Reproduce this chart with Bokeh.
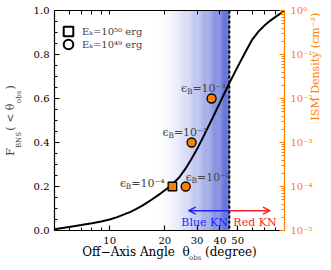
import math
import numpy as np
from bokeh.plotting import figure
from bokeh.models import (Range1d, LogScale, LogAxis, LinearAxis, FixedTicker, Span, Arrow,
                          OpenHead, Label, Legend, LegendItem)
from bokeh.embed import file_html
from bokeh.resources import INLINE

# ---------------- data ----------------
angle_deg = [5, 6, 7, 8, 9, 10, 11, 12, 13, 14, 15, 16, 17, 18, 19, 20, 21, 22, 24, 26, 28,
             30, 33, 36, 40, 45, 50, 55, 60, 65, 70, 75, 80, 85, 90]
f_bns = [0.006, 0.016, 0.025, 0.033, 0.041, 0.05, 0.061, 0.073, 0.085, 0.098, 0.112, 0.127,
         0.141, 0.155, 0.169, 0.183, 0.196, 0.21, 0.242, 0.282, 0.326, 0.37, 0.438, 0.502,
         0.582, 0.67, 0.745, 0.81, 0.868, 0.905, 0.932, 0.953, 0.970, 0.985, 1.0]

pt_angle = [22, 26, 28, 36]
pt_frac = [0.2, 0.2, 0.4, 0.6]
pt_marker = ["square", "circle", "circle", "circle"]
pt_eps_label = ["=10⁻⁴", "=10⁻²", "=10⁻³", "=10⁻³"]

x_ticks = [10, 20, 30, 40, 50]
x_tick_labels = ["10", "20", "30", "40", "50"]
x_minor = [6, 7, 8, 9, 60, 70, 80]
y_ticks = [0.0, 0.2, 0.4, 0.6, 0.8, 1.0]
y_tick_labels = ["0.0", "0.2", "0.4", "0.6", "0.8", "1.0"]
y_minor = [0.05, 0.1, 0.15, 0.25, 0.3, 0.35, 0.45, 0.5, 0.55, 0.65, 0.7, 0.75, 0.85, 0.9, 0.95]
dens_ticks = [1e-5, 1e-4, 1e-3, 1e-2, 1e-1, 1.0]
dens_labels = ["10⁻⁵", "10⁻⁴", "10⁻³", "10⁻²", "10⁻¹", "10⁰"]
dens_minor = [m * 10.0 ** e for e in range(-5, 0) for m in range(2, 10)]

kn_split = 45
gradient_start = 18
blue_arrow_end = 27
red_arrow_end = 75
arrow_level = 0.09
legend_labels = ["Eₖ=10⁵⁰ erg", "Eₖ=10⁴⁹ erg"]

NB = "\u00a0"
x_title_main = "Off−Axis Angle" + NB * 2 + "θ" + NB * 4 + "(degree)"
x_title_sub = NB * 23 + "obs"
y_title_main = "F" + NB * 5 + "(" + NB + "<" + NB + "θ" + NB * 4 + ")"
y_title_sub = NB + "BNS" + NB * 13 + "obs"
r_title = "ISM Density (cm⁻³)"

# ---------------- styles ----------------
SERIF = "DejaVu Serif"
ORANGE = "#ff8000"
BLUE = "#1f1fff"
RED = "#ff1f1f"

p = figure(width=331, height=270, x_axis_type="log", x_range=Range1d(5, 90),
           y_range=Range1d(0, 1), output_backend="svg", toolbar_location=None,
           min_border_left=44, min_border_right=45, min_border_top=10, min_border_bottom=40)
p.outline_line_color = None
p.grid.visible = False


def style_axis(ax, color="black"):
    ax.major_tick_in = 5
    ax.major_tick_out = 0
    ax.minor_tick_in = 3
    ax.minor_tick_out = 0
    ax.axis_line_color = color
    ax.major_tick_line_color = color
    ax.minor_tick_line_color = color
    ax.axis_line_width = 1.2
    ax.major_tick_line_width = 1.2
    ax.minor_tick_line_width = 1
    ax.major_label_text_font = SERIF
    ax.major_label_text_font_size = "10px"
    ax.major_label_text_color = color
    ax.axis_label_text_font = SERIF
    ax.axis_label_text_font_style = "normal"
    ax.axis_label_text_color = color


def title_axis(cls, label, size, standoff, **kw):
    ax = cls(ticker=FixedTicker(ticks=[]), axis_line_color=None, major_tick_line_color=None,
             minor_tick_line_color=None, major_label_standoff=0, major_tick_in=0,
             major_tick_out=0, minor_tick_in=0, minor_tick_out=0, axis_label=label,
             axis_label_standoff=standoff, axis_label_text_font=SERIF,
             axis_label_text_font_size=size, axis_label_text_font_style="normal", **kw)
    return ax


# bottom axis (+ main title)
xb = p.xaxis[0]
xb.ticker = FixedTicker(ticks=x_ticks, minor_ticks=x_minor)
xb.major_label_overrides = dict(zip(x_ticks, x_tick_labels))
style_axis(xb)
xb.major_label_standoff = 6
xb.axis_label = x_title_main
xb.axis_label_text_font_size = "12px"
xb.axis_label_standoff = -2
# subscript line of the x title
p.add_layout(title_axis(LogAxis, x_title_sub, "7px", -8), "below")

# top axis (ticks only)
xt = LogAxis(ticker=FixedTicker(ticks=[], minor_ticks=x_ticks + x_minor))
style_axis(xt)
xt.minor_tick_in = 4
xt.major_label_standoff = 0
p.add_layout(xt, "above")

# left axis
yl = p.yaxis[0]
yl.ticker = FixedTicker(ticks=y_ticks, minor_ticks=y_minor)
yl.major_label_overrides = dict(zip(y_ticks, y_tick_labels))
style_axis(yl)
yl.major_label_standoff = 5
# y title: subscripts (nearer the frame) then main line
p.add_layout(title_axis(LinearAxis, y_title_sub, "7px", 8), "left")
p.add_layout(title_axis(LinearAxis, y_title_main, "11px", -5), "left")

# right axis (ISM density)
p.extra_y_ranges = {"ism": Range1d(1e-5, 1.0)}
p.extra_y_scales = {"ism": LogScale()}
yr = LogAxis(y_range_name="ism", ticker=FixedTicker(ticks=dens_ticks, minor_ticks=dens_minor))
yr.major_label_overrides = dict(zip(dens_ticks, dens_labels))
style_axis(yr, ORANGE)
yr.major_label_standoff = 6
p.add_layout(yr, "right")

# right title on its own (bounded) axis so it starts low and reads upward
rt = title_axis(LinearAxis, r_title, "11px", 0, bounds=(0, 0.445))
rt.axis_label_text_color = ORANGE
rt.axis_label_orientation = math.pi / 2
p.add_layout(rt, "right")

# blue gradient band (white -> blue up to the KN split)
n_strip = 80
edges = np.geomspace(gradient_start, kn_split, n_strip + 1)
tt = (np.arange(n_strip) + 0.5) / n_strip
aa = 0.82 * tt ** 1.6
base = np.array([51, 71, 204])
cols = ["#%02x%02x%02x" % tuple(int(round(255 * (1 - a) + c * a)) for c in base) for a in aa]
p.quad(left=edges[:-1], right=edges[1:] * 1.004, bottom=0, top=1, fill_color=cols,
       line_color=None, level="underlay")

# dashed KN split line
p.add_layout(Span(location=kn_split, dimension="height", line_color="black",
                  line_width=2, line_dash="3 2"))

# curve
p.line(angle_deg, f_bns, line_color="black", line_width=2)

# points
p.scatter(pt_angle, pt_frac, marker=pt_marker, size=[8.5, 9, 9, 9], fill_color=ORANGE,
          line_color="black", line_width=1.3)

# epsilon_B labels (composed: eps, subscript B, =10^n)
lab_dx = [-52.5, 0, -29, -30.5]
lab_dy = [7, 13, 14, 14]
for xv, yv, txt, dx, dy in zip(pt_angle, pt_frac, pt_eps_label, lab_dx, lab_dy):
    base_y = dy - 4
    p.add_layout(Label(x=xv, y=yv, x_offset=dx, y_offset=base_y, text="ϵ",
                       text_font=SERIF, text_font_size="11px", text_baseline="alphabetic"))
    p.add_layout(Label(x=xv, y=yv, x_offset=dx + 5.8, y_offset=base_y - 2.5, text="B",
                       text_font=SERIF, text_font_size="7.5px", text_baseline="alphabetic"))
    p.add_layout(Label(x=xv, y=yv, x_offset=dx + 11.3, y_offset=base_y, text=txt,
                       text_font=SERIF, text_font_size="11px", text_baseline="alphabetic"))

# KN arrows and labels
p.add_layout(Arrow(x_start=kn_split, y_start=arrow_level, x_end=blue_arrow_end, y_end=arrow_level,
                   line_color=BLUE, line_width=1.5,
                   end=OpenHead(size=7, line_color=BLUE, line_width=1.5)))
p.add_layout(Arrow(x_start=kn_split, y_start=arrow_level, x_end=red_arrow_end, y_end=arrow_level,
                   line_color=RED, line_width=1.5,
                   end=OpenHead(size=7, line_color=RED, line_width=1.5)))
p.add_layout(Label(x=kn_split, y=arrow_level, x_offset=-1.5, y_offset=-12, text="Blue KN",
                   text_align="right", text_baseline="middle", text_color=BLUE,
                   text_font=SERIF, text_font_size="11px"))
p.add_layout(Label(x=kn_split, y=arrow_level, x_offset=4, y_offset=-12, text="Red KN",
                   text_align="left", text_baseline="middle", text_color=RED,
                   text_font=SERIF, text_font_size="11px"))

# legend (open markers)
nan = float("nan")
r_sq = p.scatter([nan], [nan], marker="square", size=9, fill_color="white",
                 line_color="black", line_width=2)
r_ci = p.scatter([nan], [nan], marker="circle", size=9, fill_color="white",
                 line_color="black", line_width=2)
for rend, lab, loc in [(r_sq, legend_labels[0], (2, 187)), (r_ci, legend_labels[1], (2, 174))]:
    lg = Legend(items=[LegendItem(label=lab, renderers=[rend])], location=loc,
                glyph_width=24, glyph_height=24, label_standoff=2, padding=0, margin=0,
                border_line_color=None, background_fill_alpha=0,
                label_text_font=SERIF, label_text_font_size="10px")
    p.add_layout(lg, "center")

open("out.html", "w").write(file_html(p, INLINE))
